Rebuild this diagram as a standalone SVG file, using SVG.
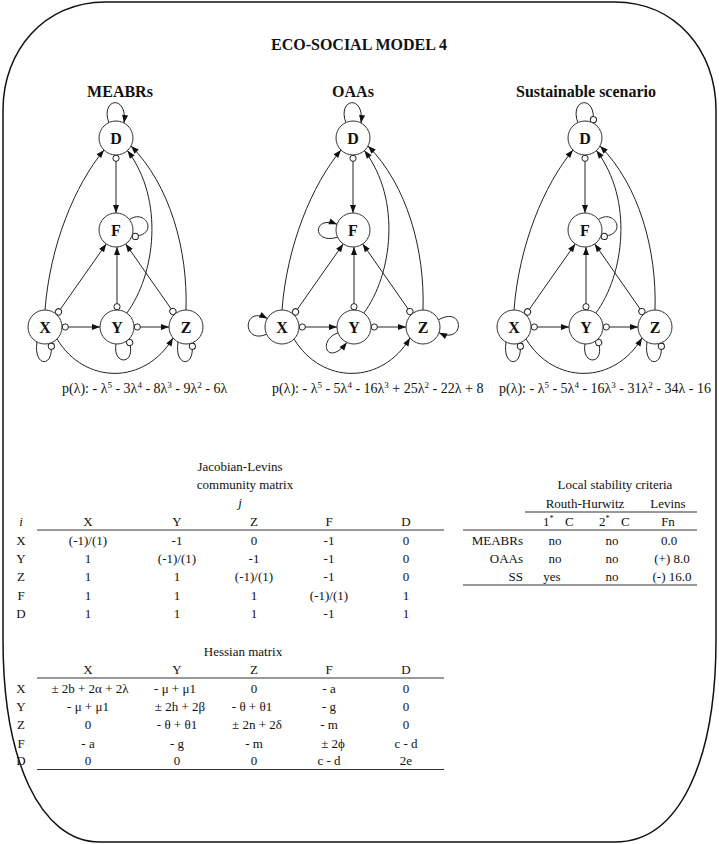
<svg xmlns="http://www.w3.org/2000/svg" width="719" height="844" viewBox="0 0 719 844">
<style>
.t{font-family:"Liberation Serif","DejaVu Serif",serif;fill:#111}
.tb{font-family:"Liberation Serif","DejaVu Serif",serif;font-weight:bold;fill:#111}
.c{text-anchor:middle}
.r{text-anchor:end}
.s13{font-size:13px}
.e{fill:none;stroke:#222;stroke-width:1}
.node{fill:#fff;stroke:#333;stroke-width:1}
.rule{stroke:#333;stroke-width:1}
.lab{font-size:16px;text-anchor:middle}
.poly{font-size:14px}
</style>
<defs>
<marker id="arr" markerUnits="userSpaceOnUse" viewBox="-9 -5 10 10" refX="0" refY="0" markerWidth="10" markerHeight="10" orient="auto"><path d="M0,0 L-8,-3 L-8,3 Z" fill="#111"/></marker>
<marker id="negS" markerUnits="userSpaceOnUse" viewBox="-1 -5 10 10" refX="0" refY="0" markerWidth="10" markerHeight="10" orient="auto"><circle cx="3.3" cy="0" r="3.1" fill="#fff" stroke="#222" stroke-width="1"/></marker>
<marker id="negE" markerUnits="userSpaceOnUse" viewBox="-9 -5 10 10" refX="0" refY="0" markerWidth="10" markerHeight="10" orient="auto"><circle cx="-3.3" cy="0" r="3.1" fill="#fff" stroke="#222" stroke-width="1"/></marker>
</defs>
<rect width="719" height="844" fill="#fff"/>
<path id="frame" d="M105,2 H615 C675,2 716,50 716,110 V640 C716,760 680,842 615,842 H100 C40,842 3,760 3,640 V110 C3,50 45,2 105,2 Z" fill="none" stroke="#111" stroke-width="1.5"/>

<text class="tb c" x="359" y="50" font-size="16">ECO-SOCIAL MODEL 4</text>
<text class="tb c" x="120" y="97" font-size="16">MEABRs</text>
<text class="tb c" x="353" y="97" font-size="16">OAAs</text>
<text class="tb c" x="586" y="97" font-size="16">Sustainable scenario</text>

<!-- Graph 1: MEABRs -->
<g id="graph-meabrs">
<g id="m1-connectors">
<path class="e" d="M116,155 L116,213" marker-start="url(#negS)" marker-end="url(#arr)"/>
<path class="e" d="M45,310 C50,245 75,185 104,150" marker-end="url(#arr)"/>
<path class="e" d="M56.6,314.6 L106.2,243.9" marker-start="url(#negS)" marker-end="url(#arr)"/>
<path class="e" d="M117,310 L117,247" marker-start="url(#negS)" marker-end="url(#arr)"/>
<path class="e" d="M174.8,314.2 L125.7,243.9" marker-start="url(#negS)" marker-end="url(#arr)"/>
<path class="e" d="M126.8,313.1 C155,275 165,200 127.4,150.6" marker-end="url(#arr)"/>
<path class="e" d="M186,310 C188,250 170,185 131,146" marker-end="url(#arr)"/>
<path class="e" d="M62,327 L100,327" marker-start="url(#negS)" marker-end="url(#arr)"/>
<path class="e" d="M134,327 L169,327" marker-start="url(#negS)" marker-end="url(#arr)"/>
<path class="e" d="M57,339 C85,385 145,385 173,338" marker-end="url(#arr)"/>
<path class="e" d="M108.8,122.6 C100,98 128,94 124,123" marker-end="url(#arr)"/>
<path class="e" d="M129.5,219.5 C146,208 160,236 132,236.5" marker-end="url(#negE)"/>
<path class="e" d="M37,342 C33,368 55,368 50.8,343" marker-end="url(#negE)"/>
<path class="e" d="M116,344 C112,366 138,366 128.6,339.4" marker-end="url(#negE)"/>
<path class="e" d="M178,342 C174,368 196,368 191.8,343" marker-end="url(#negE)"/>
</g>
<g id="m1-D"><circle class="node" cx="116" cy="138" r="17"/><text class="tb lab" x="116" y="143.5">D</text></g>
<g id="m1-F"><circle class="node" cx="116" cy="230" r="17"/><text class="tb lab" x="116" y="235.5">F</text></g>
<g id="m1-X"><circle class="node" cx="45" cy="327" r="17"/><text class="tb lab" x="45" y="332.5">X</text></g>
<g id="m1-Y"><circle class="node" cx="117" cy="327" r="17"/><text class="tb lab" x="117" y="332.5">Y</text></g>
<g id="m1-Z"><circle class="node" cx="186" cy="327" r="17"/><text class="tb lab" x="186" y="332.5">Z</text></g>
</g>

<!-- Graph 2: OAAs -->
<g id="graph-oaas" transform="translate(237,0)">
<g id="m2-connectors">
<path class="e" d="M116,155 L116,213" marker-start="url(#negS)" marker-end="url(#arr)"/>
<path class="e" d="M45,310 C50,245 75,185 104,150" marker-end="url(#arr)"/>
<path class="e" d="M56.6,314.6 L106.2,243.9" marker-start="url(#negS)" marker-end="url(#arr)"/>
<path class="e" d="M117,310 L117,247" marker-start="url(#negS)" marker-end="url(#arr)"/>
<path class="e" d="M174.8,314.2 L125.7,243.9" marker-start="url(#negS)" marker-end="url(#arr)"/>
<path class="e" d="M126.8,313.1 C155,275 165,200 127.4,150.6" marker-end="url(#arr)"/>
<path class="e" d="M186,310 C188,250 170,185 131,146" marker-end="url(#arr)"/>
<path class="e" d="M62,327 L100,327" marker-start="url(#negS)" marker-end="url(#arr)"/>
<path class="e" d="M134,327 L169,327" marker-start="url(#negS)" marker-end="url(#arr)"/>
<path class="e" d="M57,339 C85,385 145,385 173,338" marker-end="url(#arr)"/>
<path class="e" d="M108.8,122.6 C100,98 128,94 124,123" marker-end="url(#arr)"/>
<path class="e" d="M100.6,237.2 C75,245 75,215 100,224.2" marker-end="url(#arr)"/>
<path class="e" d="M29.6,334.2 C5,345 5,305 30.3,318.5" marker-end="url(#arr)"/>
<path class="e" d="M101,332.8 C80,340 90,368 109.8,342.4" marker-end="url(#arr)"/>
<path class="e" d="M201.4,319.8 C228,305 228,345 202,332.8" marker-end="url(#arr)"/>
</g>
<g id="m2-D"><circle class="node" cx="116" cy="138" r="17"/><text class="tb lab" x="116" y="143.5">D</text></g>
<g id="m2-F"><circle class="node" cx="116" cy="230" r="17"/><text class="tb lab" x="116" y="235.5">F</text></g>
<g id="m2-X"><circle class="node" cx="45" cy="327" r="17"/><text class="tb lab" x="45" y="332.5">X</text></g>
<g id="m2-Y"><circle class="node" cx="117" cy="327" r="17"/><text class="tb lab" x="117" y="332.5">Y</text></g>
<g id="m2-Z"><circle class="node" cx="186" cy="327" r="17"/><text class="tb lab" x="186" y="332.5">Z</text></g>
</g>

<!-- Graph 3: Sustainable scenario -->
<g id="graph-ss" transform="translate(469,0)">
<g id="m3-connectors">
<path class="e" d="M116,155 L116,213" marker-start="url(#negS)" marker-end="url(#arr)"/>
<path class="e" d="M45,310 C50,245 75,185 104,150" marker-end="url(#arr)"/>
<path class="e" d="M56.6,314.6 L106.2,243.9" marker-start="url(#negS)" marker-end="url(#arr)"/>
<path class="e" d="M117,310 L117,247" marker-start="url(#negS)" marker-end="url(#arr)"/>
<path class="e" d="M174.8,314.2 L125.7,243.9" marker-start="url(#negS)" marker-end="url(#arr)"/>
<path class="e" d="M126.8,313.1 C155,275 165,200 127.4,150.6" marker-end="url(#arr)"/>
<path class="e" d="M186,310 C188,250 170,185 131,146" marker-end="url(#arr)"/>
<path class="e" d="M62,327 L100,327" marker-start="url(#negS)" marker-end="url(#arr)"/>
<path class="e" d="M134,327 L169,327" marker-start="url(#negS)" marker-end="url(#arr)"/>
<path class="e" d="M57,339 C85,385 145,385 173,338" marker-end="url(#arr)"/>
<path class="e" d="M108.8,122.6 C100,98 128,94 124,123" marker-end="url(#negE)"/>
<path class="e" d="M129.5,219.5 C146,208 160,236 132,236.5" marker-end="url(#negE)"/>
<path class="e" d="M37,342 C33,368 55,368 50.8,343" marker-end="url(#negE)"/>
<path class="e" d="M116,344 C112,366 138,366 128.6,339.4" marker-end="url(#negE)"/>
<path class="e" d="M178,342 C174,368 196,368 191.8,343" marker-end="url(#negE)"/>
</g>
<g id="m3-D"><circle class="node" cx="116" cy="138" r="17"/><text class="tb lab" x="116" y="143.5">D</text></g>
<g id="m3-F"><circle class="node" cx="116" cy="230" r="17"/><text class="tb lab" x="116" y="235.5">F</text></g>
<g id="m3-X"><circle class="node" cx="45" cy="327" r="17"/><text class="tb lab" x="45" y="332.5">X</text></g>
<g id="m3-Y"><circle class="node" cx="117" cy="327" r="17"/><text class="tb lab" x="117" y="332.5">Y</text></g>
<g id="m3-Z"><circle class="node" cx="186" cy="327" r="17"/><text class="tb lab" x="186" y="332.5">Z</text></g>
</g>

<!-- Characteristic polynomials -->
<text class="t poly" x="62" y="393">p(λ): - λ<tspan baseline-shift="super" font-size="9">5</tspan> - 3λ<tspan baseline-shift="super" font-size="9">4</tspan> - 8λ<tspan baseline-shift="super" font-size="9">3</tspan> - 9λ<tspan baseline-shift="super" font-size="9">2</tspan> - 6λ</text>
<text class="t poly" x="272" y="393">p(λ): - λ<tspan baseline-shift="super" font-size="9">5</tspan> - 5λ<tspan baseline-shift="super" font-size="9">4</tspan> - 16λ<tspan baseline-shift="super" font-size="9">3</tspan> + 25λ<tspan baseline-shift="super" font-size="9">2</tspan> - 22λ + 8</text>
<text class="t poly" x="499" y="393">p(λ): - λ<tspan baseline-shift="super" font-size="9">5</tspan> - 5λ<tspan baseline-shift="super" font-size="9">4</tspan> - 16λ<tspan baseline-shift="super" font-size="9">3</tspan> - 31λ<tspan baseline-shift="super" font-size="9">2</tspan> - 34λ - 16</text>

<!-- Jacobian-Levins community matrix -->
<g id="jacobian" class="t s13">
<text class="c" x="240" y="471">Jacobian-Levins</text>
<text class="c" x="245" y="489">community matrix</text>
<text class="c" x="240" y="507" font-style="italic">j</text>
<text class="c" x="21" y="526" font-style="italic">i</text>
<text class="c" x="88" y="526">X</text><text class="c" x="177" y="526">Y</text><text class="c" x="254" y="526">Z</text><text class="c" x="329" y="526">F</text><text class="c" x="406" y="526">D</text>
<line class="rule" x1="37" y1="530" x2="444" y2="530"/>
<text class="c" x="21" y="544.5">X</text><text class="c" x="88" y="544.5">(-1)/(1)</text><text class="c" x="177" y="544.5">-1</text><text class="c" x="254" y="544.5">0</text><text class="c" x="329" y="544.5">-1</text><text class="c" x="406" y="544.5">0</text>
<text class="c" x="21" y="562.8">Y</text><text class="c" x="88" y="562.8">1</text><text class="c" x="177" y="562.8">(-1)/(1)</text><text class="c" x="254" y="562.8">-1</text><text class="c" x="329" y="562.8">-1</text><text class="c" x="406" y="562.8">0</text>
<text class="c" x="21" y="581">Z</text><text class="c" x="88" y="581">1</text><text class="c" x="177" y="581">1</text><text class="c" x="254" y="581">(-1)/(1)</text><text class="c" x="329" y="581">-1</text><text class="c" x="406" y="581">0</text>
<text class="c" x="21" y="599.5">F</text><text class="c" x="88" y="599.5">1</text><text class="c" x="177" y="599.5">1</text><text class="c" x="254" y="599.5">1</text><text class="c" x="329" y="599.5">(-1)/(1)</text><text class="c" x="406" y="599.5">1</text>
<text class="c" x="21" y="617.8">D</text><text class="c" x="88" y="617.8">1</text><text class="c" x="177" y="617.8">1</text><text class="c" x="254" y="617.8">1</text><text class="c" x="329" y="617.8">-1</text><text class="c" x="406" y="617.8">1</text>
</g>

<!-- Local stability criteria -->
<g id="stability" class="t s13">
<text class="c" x="615" y="489">Local stability criteria</text>
<text class="c" x="585" y="507.5">Routh-Hurwitz</text>
<text class="c" x="668" y="507.5">Levins</text>
<line class="rule" x1="525" y1="512" x2="697" y2="512"/>
<text x="543" y="526">1<tspan dy="-5" font-size="8">*</tspan></text><text x="565" y="526">C</text>
<text x="599" y="526">2<tspan dy="-5" font-size="8">*</tspan></text><text x="621" y="526">C</text>
<text class="c" x="668" y="526">Fn</text>
<line class="rule" x1="463" y1="530" x2="697" y2="530"/>
<text class="r" x="523" y="544.5">MEABRs</text><text class="c" x="555" y="544.5">no</text><text class="c" x="612" y="544.5">no</text><text class="c" x="669" y="544.5">0.0</text>
<text class="r" x="523" y="562.8">OAAs</text><text class="c" x="555" y="562.8">no</text><text class="c" x="612" y="562.8">no</text><text class="c" x="672" y="562.8">(+) 8.0</text>
<text class="r" x="523" y="581">SS</text><text class="c" x="552" y="581">yes</text><text class="c" x="612" y="581">no</text><text class="c" x="672" y="581">(-) 16.0</text>
<line class="rule" x1="463" y1="585" x2="697" y2="585"/>
</g>

<!-- Hessian matrix -->
<g id="hessian" class="t s13">
<text class="c" x="243" y="656">Hessian matrix</text>
<text class="c" x="88" y="673.5">X</text><text class="c" x="177" y="673.5">Y</text><text class="c" x="254" y="673.5">Z</text><text class="c" x="329" y="673.5">F</text><text class="c" x="406" y="673.5">D</text>
<line class="rule" x1="37" y1="678" x2="444" y2="678"/>
<text class="c" x="21" y="692.5">X</text><text class="c" x="90" y="692.5">± 2b + 2α + 2λ</text><text class="c" x="175" y="692.5">- μ + μ1</text><text class="c" x="254" y="692.5">0</text><text class="c" x="329" y="692.5">- a</text><text class="c" x="406" y="692.5">0</text>
<text class="c" x="21" y="711">Y</text><text class="c" x="88" y="711">- μ + μ1</text><text class="c" x="180" y="711">± 2h + 2β</text><text class="c" x="252" y="711">- θ + θ1</text><text class="c" x="329" y="711">- g</text><text class="c" x="406" y="711">0</text>
<text class="c" x="21" y="729.3">Z</text><text class="c" x="88" y="729.3">0</text><text class="c" x="177" y="729.3">- θ + θ1</text><text class="c" x="257" y="729.3">± 2n + 2δ</text><text class="c" x="329" y="729.3">- m</text><text class="c" x="406" y="729.3">0</text>
<text class="c" x="21" y="747.6">F</text><text class="c" x="88" y="747.6">- a</text><text class="c" x="177" y="747.6">- g</text><text class="c" x="254" y="747.6">- m</text><text class="c" x="333" y="747.6">± 2ϕ</text><text class="c" x="406" y="747.6">c - d</text>
<text class="c" x="21" y="765.3">D</text><text class="c" x="88" y="765.3">0</text><text class="c" x="177" y="765.3">0</text><text class="c" x="254" y="765.3">0</text><text class="c" x="329" y="765.3">c - d</text><text class="c" x="406" y="765.3">2e</text>
<line class="rule" x1="37" y1="769.5" x2="444" y2="769.5"/>
</g>
</svg>
